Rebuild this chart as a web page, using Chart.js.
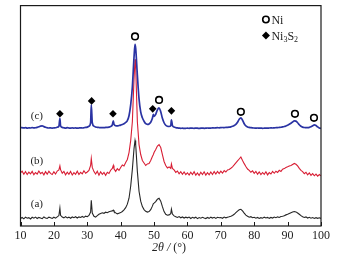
<!DOCTYPE html>
<html>
<head>
<meta charset="utf-8">
<script src="https://cdn.jsdelivr.net/npm/chart.js@4.4.1/dist/chart.umd.min.js"></script>
<style>
    html, body { margin: 0; padding: 0; background: #fff; }
    #xrd { display: block; }
</style>
</head>
<body>
<canvas id="xrd" width="339" height="262"></canvas>
<script>
// 2theta sample positions (deg)
const twoTheta = [
    10, 10.5, 11, 11.5, 12, 12.5, 13, 13.5, 14, 14.5, 15, 15.5, 16, 16.5, 17, 17.5, 18, 18.5, 19, 19.5,
    20, 20.5, 21, 21.5, 21.8, 22, 22.5, 23, 23.5, 24, 24.5, 25, 25.5, 26, 26.5, 27, 27.5, 28, 28.5, 29, 29.5,
    30, 30.5, 31, 31.2, 31.5, 32, 32.5, 33, 33.5, 34, 34.5, 35, 35.5, 36, 36.5, 37, 37.5, 37.8, 38, 38.5, 39, 39.5,
    40, 40.5, 41, 41.5, 42, 42.5, 43, 43.5, 44, 44.3, 44.5, 45, 45.5, 46, 46.5, 47, 47.5, 48, 48.5, 49, 49.5, 49.8,
    50, 50.5, 51, 51.5, 52, 52.5, 53, 53.5, 54, 54.5, 55, 55.2, 55.5, 56, 56.5, 57, 57.5, 58, 58.5, 59, 59.5,
    60, 60.5, 61, 61.5, 62, 62.5, 63, 63.5, 64, 64.5, 65, 65.5, 66, 66.5, 67, 67.5, 68, 68.5, 69, 69.5,
    70, 70.5, 71, 71.5, 72, 72.5, 73, 73.5, 74, 74.5, 75, 75.5, 76, 76.5, 77, 77.5, 78, 78.5, 79, 79.5,
    80, 80.5, 81, 81.5, 82, 82.5, 83, 83.5, 84, 84.5, 85, 85.5, 86, 86.5, 87, 87.5, 88, 88.5, 89, 89.5,
    90, 90.5, 91, 91.5, 92, 92.5, 93, 93.5, 94, 94.5, 95, 95.5, 96, 96.5, 97, 97.5, 98, 98.5, 99, 99.5, 100
];

// (a) black trace, intensity (offset units)
const curveA = [
    7.5, 8.6, 7.2, 8.9, 7.8, 8.4, 7.1, 8.8, 7.9, 9.0, 7.6, 8.7, 8.1, 7.4, 9.1, 8.0, 7.7, 8.9, 8.3, 7.6,
    8.8, 7.9, 9.2, 10.5, 18, 10.8, 9.0, 8.2, 9.4, 8.1, 8.9, 7.8, 9.1, 8.4, 9.3, 8.0, 9.2, 8.6, 9.6, 8.7, 9.9,
    9.4, 10.6, 14, 26, 13, 9.8, 9.0, 10.4, 11.8, 12.6, 13.3, 12.8, 13.9, 13.4, 14.3, 14.8, 15.2, 16, 14.6, 13.2, 12.3, 12.9,
    13.5, 14.6, 16.2, 18.5, 22, 28, 40, 57, 78, 86, 82, 55, 35, 25, 19.5, 16.5, 14.8, 14.0, 14.6, 16.5, 20, 22.5,
    23, 24.5, 27, 28, 25, 19.5, 14.5, 11.8, 10.8, 11.2, 12.5, 17, 12, 10.2, 9.4, 8.6, 9.5, 8.3, 9.1, 8.0, 8.9,
    8.2, 9.0, 7.6, 8.7, 8.0, 8.9, 7.4, 8.5, 7.9, 8.8, 8.1, 7.5, 8.6, 7.7, 8.9, 8.0, 8.7, 7.6, 8.8, 8.3,
    8.6, 7.8, 9.0, 8.2, 8.9, 9.3, 9.8, 10.6, 11.8, 13.4, 15.0, 16.3, 16.8, 15.2, 13.0, 11.0, 9.8, 8.9, 9.4, 8.4,
    8.8, 7.9, 8.6, 7.6, 8.4, 7.8, 8.9, 8.1, 8.7, 7.7, 8.6, 8.0, 9.0, 8.3, 9.2, 8.6, 9.5, 9.9, 10.4, 11.2,
    11.8, 12.6, 13.4, 14.0, 14.6, 14.2, 13.1, 11.8, 10.4, 9.3, 8.6, 9.2, 8.0, 8.8, 7.9, 8.5, 7.6, 8.4, 7.7, 8.3, 7.6
];

// (b) red trace
const curveB = [
    53.5, 55.2, 52.1, 54.8, 51.9, 54.3, 52.6, 55.0, 51.7, 53.9, 52.3, 55.4, 52.8, 54.1, 51.5, 54.7, 52.2, 55.1, 53.0, 51.8,
    54.6, 52.4, 55.3, 56.5, 60.5, 56.8, 53.2, 55.0, 51.6, 54.2, 52.0, 54.9, 51.4, 53.8, 52.1, 55.2, 51.9, 54.0, 52.5, 55.6, 53.1,
    54.4, 56.0, 61, 68, 59, 54.8, 52.3, 55.1, 51.2, 54.6, 52.0, 53.9, 51.0, 54.2, 53.0, 56.2, 58.0, 61, 57.5, 55.0, 57.8, 56.0,
    59, 61.5, 60.5, 64, 67, 74, 86, 105, 148, 168, 160, 105, 82, 72, 66, 63.5, 61, 62.5, 63, 66, 70, 72,
    74, 77, 80.5, 82, 79, 72, 65, 61, 58.5, 59.5, 58, 62.5, 58, 56.5, 54.0, 55.4, 52.6, 54.8, 52.1, 54.5, 51.8,
    53.6, 51.4, 54.2, 51.9, 54.7, 51.2, 53.5, 50.9, 54.1, 51.8, 54.6, 51.3, 53.7, 51.6, 54.4, 51.9, 54.8, 52.3, 55.0, 52.8,
    55.3, 53.2, 55.8, 54.4, 56.5, 57.0, 58.2, 59.6, 61.5, 63.5, 65.5, 67.5, 69.5, 66.0, 62.8, 60.0, 57.4, 56.0, 54.1, 55.5,
    53.0, 54.9, 52.2, 54.5, 51.8, 53.9, 52.0, 54.6, 51.5, 53.8, 52.4, 54.9, 53.1, 55.2, 54.0, 56.1, 55.0, 57.2, 57.8, 58.9,
    59.6, 60.5, 61.0, 62.0, 63.0, 62.2, 60.5, 58.0, 56.0, 54.8, 52.6, 54.1, 51.5, 53.4, 51.0, 52.8, 50.6, 52.3, 50.2, 51.8, 50.5
];

// (c) blue trace
const curveC = [
    99.2, 99.0, 98.8, 99.0, 98.6, 98.9, 98.7, 99.1, 98.8, 99.0, 99.4, 99.9, 100.6, 100.8, 100.1, 99.4, 99.0, 98.7, 98.9, 98.6,
    98.8, 99.0, 99.5, 100.5, 108.5, 101, 99.3, 98.9, 98.6, 99.0, 98.7, 98.5, 98.9, 98.6, 98.8, 98.5, 98.7, 98.9, 98.7, 99.0, 99.3,
    99.6, 100.5, 104, 122, 104, 100.6, 99.7, 99.4, 99.2, 99.0, 99.1, 99.0, 99.3, 99.4, 99.6, 100.2, 101.8, 106, 102.5, 101, 100.8, 101.2,
    101.6, 102.2, 103.0, 104.3, 106.2, 111, 122, 140, 170, 183, 179, 152, 128, 115, 109, 105.5, 103, 102.4, 102.8, 104.5, 108.5, 112.5,
    110.5, 112.5, 117, 119, 115, 108.5, 104, 101.5, 100.4, 100.2, 101, 107, 101.2, 99.6, 99.1, 98.8, 98.6, 98.4, 98.5, 98.3, 98.4,
    98.5, 98.4, 98.6, 98.5, 98.4, 98.6, 98.5, 98.3, 98.5, 98.6, 98.4, 98.5, 98.7, 98.5, 98.6, 98.8, 98.7, 98.9, 99.0, 98.9,
    99.1, 99.2, 99.1, 99.3, 99.4, 99.6, 99.9, 100.4, 101.2, 102.4, 104.5, 107.5, 109, 106.5, 103, 100.8, 99.8, 99.3, 99.0, 98.8,
    98.7, 98.6, 98.7, 98.5, 98.6, 98.4, 98.5, 98.6, 98.5, 98.7, 98.8, 98.7, 98.9, 99.0, 99.1, 99.3, 99.5, 99.8, 100.2, 100.8,
    101.5, 102.4, 103.5, 104.8, 105.8, 105.6, 104, 102, 100.5, 99.6, 99.2, 99.0, 99.1, 99.4, 100.0, 101.0, 101.8, 101.2, 99.8, 98.8, 98.3
];

// phase markers above trace (c)
const niX = [44.3, 51.5, 76, 92.2, 97.9];
const niY = [191, 127, 115, 113, 109];
const sulfideX = [21.8, 31.3, 37.7, 49.6, 55.2];
const sulfideY = [113, 126, 113, 118, 116];

const xTicks = [10, 20, 30, 40, 50, 60, 70, 80, 90, 100];
const curveTags = ["(a)", "(b)", "(c)"];
const curveTagY = [22, 65.5, 110.5];

const serif = "'Liberation Serif', 'Times New Roman', serif";
const toPoints = (xs, ys) => xs.map((x, i) => ({ x: x, y: ys[i] }));

// frame, inner ticks, curve tags, legend and axis title
const decorPlugin = {
    id: "decor",
    afterDraw(chart) {
        const { ctx, chartArea: area, scales } = chart;
        const xs = scales.x, ys = scales.y;
        ctx.save();
        ctx.strokeStyle = "#1a1a1a";
        ctx.lineWidth = 1.2;
        ctx.strokeRect(area.left, area.top, area.right - area.left, area.bottom - area.top);
        ctx.lineWidth = 1;
        xTicks.forEach((t) => {
            const px = Math.round(xs.getPixelForValue(t)) + 0.5;
            ctx.beginPath();
            ctx.moveTo(px, area.bottom);
            ctx.lineTo(px, area.bottom - 4);
            ctx.stroke();
        });

        ctx.fillStyle = "#222";
        ctx.font = "11px " + serif;
        ctx.textAlign = "center";
        ctx.textBaseline = "middle";
        curveTags.forEach((tag, i) => {
            ctx.fillText(tag, xs.getPixelForValue(14.9), ys.getPixelForValue(curveTagY[i]));
        });

        // legend
        const lx = xs.getPixelForValue(83.5);
        const tx = lx + 5.5;
        const y1 = ys.getPixelForValue(208);
        const y2 = ys.getPixelForValue(192);
        ctx.strokeStyle = "#000";
        ctx.lineWidth = 1.6;
        ctx.beginPath();
        ctx.arc(lx, y1, 3.2, 0, Math.PI * 2);
        ctx.stroke();
        ctx.fillStyle = "#000";
        ctx.beginPath();
        ctx.moveTo(lx, y2 - 4);
        ctx.lineTo(lx + 4, y2);
        ctx.lineTo(lx, y2 + 4);
        ctx.lineTo(lx - 4, y2);
        ctx.closePath();
        ctx.fill();

        ctx.fillStyle = "#222";
        ctx.textAlign = "left";
        ctx.textBaseline = "alphabetic";
        ctx.font = "12px " + serif;
        ctx.fillText("Ni", tx, y1 + 4.3);
        let cx = tx;
        const parts = [["Ni", 0], ["3", 1], ["S", 0], ["2", 1]];
        parts.forEach(([s, sub]) => {
            ctx.font = (sub ? "8px " : "12px ") + serif;
            ctx.fillText(s, cx, y2 + 4.3 + (sub ? 2.5 : 0));
            cx += ctx.measureText(s).width;
        });

        // axis title: 2θ / (°)
        ctx.font = "italic 12px " + serif;
        const a = "2\u03b8 /";
        const wa = ctx.measureText(a).width;
        ctx.font = "12px " + serif;
        const b = " (\u00b0)";
        const wb = ctx.measureText(b).width;
        const start = 169 - (wa + wb) / 2;
        ctx.font = "italic 12px " + serif;
        ctx.fillText(a, start, 251);
        ctx.font = "12px " + serif;
        ctx.fillText(b, start + wa, 251);
        ctx.restore();
    },
};

new Chart(document.getElementById("xrd"), {
    type: "line",
    data: {
        datasets: [
            {
                type: "scatter",
                data: toPoints(niX, niY),
                pointStyle: "circle",
                pointRadius: 3.3,
                pointBorderWidth: 1.6,
                pointBackgroundColor: "#fff",
                pointBorderColor: "#000",
                order: 0,
            },
            {
                type: "scatter",
                data: toPoints(sulfideX, sulfideY),
                pointStyle: "rectRot",
                pointRadius: 3.8,
                pointBorderWidth: 0,
                pointBackgroundColor: "#000",
                pointBorderColor: "#000",
                order: 0,
            },
            {
                label: "(c)",
                data: toPoints(twoTheta, curveC),
                borderColor: "#2a33a3",
                borderWidth: 1.7,
                pointRadius: 0,
                cubicInterpolationMode: "monotone",
                order: 1,
            },
            {
                label: "(b)",
                data: toPoints(twoTheta, curveB),
                borderColor: "#d81e34",
                borderWidth: 1.1,
                pointRadius: 0,
                tension: 0,
                order: 2,
            },
            {
                label: "(a)",
                data: toPoints(twoTheta, curveA),
                borderColor: "#262626",
                borderWidth: 1.1,
                pointRadius: 0,
                tension: 0,
                order: 3,
            },
        ],
    },
    options: {
        responsive: false,
        animation: false,
        devicePixelRatio: 1,
        layout: { padding: { left: 20.5, right: 18, top: 4, bottom: 0 } },
        plugins: { legend: { display: false }, tooltip: { enabled: false } },
        scales: {
            x: {
                type: "linear",
                min: 10,
                max: 100,
                grid: { display: false, drawTicks: false },
                border: { display: false },
                afterBuildTicks: (scale) => {
                    scale.ticks = xTicks.map((v) => ({ value: v }));
                },
                afterFit: (scale) => {
                    scale.height = 36;
                },
                ticks: {
                    padding: 3,
                    maxRotation: 0,
                    color: "#222",
                    font: { family: serif, size: 12 },
                },
            },
            y: {
                display: false,
                min: 0,
                max: 222,
            },
        },
    },
    plugins: [decorPlugin],
});
</script>
</body>
</html>
